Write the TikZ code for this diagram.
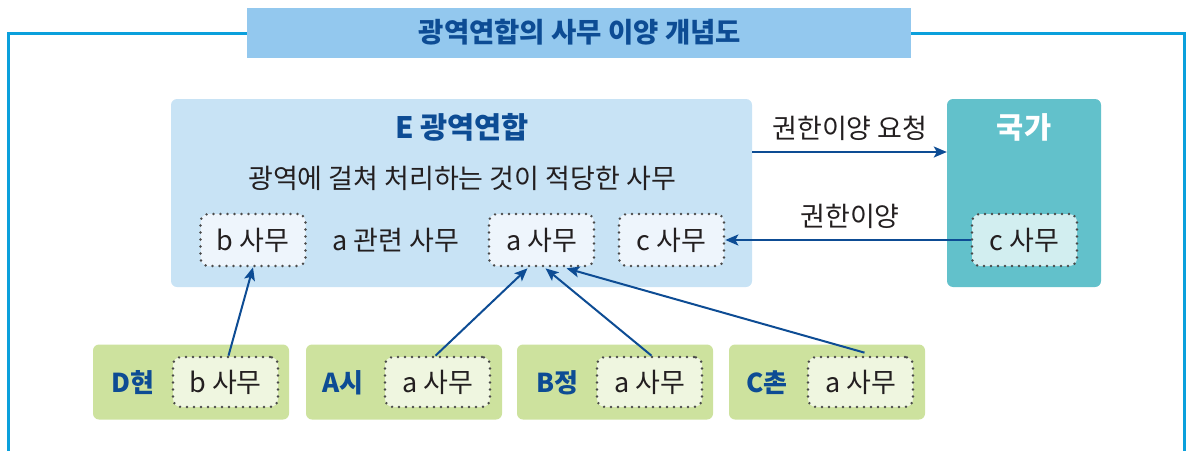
\documentclass[tikz,border=0pt]{standalone}
\usepackage{fontspec}
\newfontfamily\kr{Noto Sans CJK KR}
\usetikzlibrary{arrows.meta,calc}
\definecolor{frameblue}{HTML}{0BA0DC}
\definecolor{titlefill}{HTML}{93C8EE}
\definecolor{darkblue}{HTML}{0D4C94}
\definecolor{efill}{HTML}{C8E3F5}
\definecolor{teal}{HTML}{62C1CB}
\definecolor{green}{HTML}{CDE29E}
\definecolor{innerE}{HTML}{EEF5FC}
\definecolor{innerG}{HTML}{D2EEF0}
\definecolor{innerL}{HTML}{EFF6E0}
\definecolor{dotgray}{HTML}{4A4A4A}
\definecolor{txt}{HTML}{231F20}
\tikzset{
  body/.style={font=\kr\fontsize{27}{31}\selectfont, text=txt, inner sep=0pt},
  boldblue/.style={font=\kr\bfseries\fontsize{29.5}{33}\selectfont, text=darkblue, inner sep=0pt},
  titlefont/.style={font=\kr\bfseries\fontsize{27.5}{31}\selectfont, text=darkblue, inner sep=0pt},
  townlabel/.style={font=\kr\bfseries\fontsize{26}{30}\selectfont, text=darkblue, inner sep=0pt},
  bigbox/.style={rounded corners=6pt, inner sep=0pt},
  dotbox/.style={draw=dotgray, line width=2.7pt, dash pattern=on 0pt off 7pt, line cap=round,
     rounded corners=8pt, minimum width=105pt, minimum height=52pt, inner sep=0pt,
     font=\kr\fontsize{27}{31}\selectfont, text=txt},
  smalldot/.style={dotbox, minimum height=50pt},
  townbox/.style={bigbox, fill=green, minimum width=196pt, minimum height=75pt},
  arr/.style={draw=darkblue, line width=2pt, -{Stealth[length=13pt,width=11pt,inset=3pt]}},
}
\begin{document}
\begin{tikzpicture}[x=1pt,y=-1pt]
\useasboundingbox (0,0) rectangle (1186,450);
% outer frame
\draw[frameblue, line width=3pt] (8,452) -- (8,33) -- (1184,33) -- (1184,452);
% title
\node[fill=titlefill, minimum width=664pt, minimum height=50pt, inner sep=0pt] (title) at (579,33) {};
\node[titlefont] (titletext) at (580,32) {광역연합의 사무 이양 개념도};
% E box
\node[bigbox, fill=efill, minimum width=581pt, minimum height=188pt] (E) at (461.5,193) {};
\node[boldblue] (Etitle) at (462,127) {E 광역연합};
\node[body] (Edesc) at (462,178) {광역에 걸쳐 처리하는 것이 적당한 사무};
\node[dotbox, fill=innerE] (eb) at (253,240) {b 사무};
\node[body] (erel) at (396,240) {a 관련 사무};
\node[dotbox, fill=innerE] (ea) at (541.5,240) {a 사무};
\node[dotbox, fill=innerE] (ec) at (671.5,240) {c 사무};
% state box
\node[bigbox, fill=teal, minimum width=154pt, minimum height=188pt] (G) at (1024,193) {};
\node[boldblue, text=white] (Gtitle) at (1024,127) {국가};
\node[dotbox, fill=innerG] (gc) at (1024.5,240) {c 사무};
% arrows between E and state
\draw[arr] (E.east |- 0,152) -- (G.west |- 0,152);
\node[body] (req) at (850,128) {권한이양 요청};
\draw[arr] (gc.west) -- (ec.east);
\node[body] (trans) at (850,216) {권한이양};
% towns
\node[townbox] (D) at (191,382) {};
\node[townlabel] (Dl) at (133,383) {D현};
\node[smalldot, fill=innerL] (dD) at (225.5,382) {b 사무};
\node[townbox] (A) at (404,382) {};
\node[townlabel] (Al) at (343,383) {A시};
\node[smalldot, fill=innerL] (dA) at (437.5,382) {a 사무};
\node[townbox] (B) at (615,382) {};
\node[townlabel] (Bl) at (557,383) {B정};
\node[smalldot, fill=innerL] (dB) at (649.5,382) {a 사무};
\node[townbox] (C) at (827,382) {};
\node[townlabel] (Cl) at (767,383) {C촌};
\node[smalldot, fill=innerL] (dC) at (860.5,382) {a 사무};
% arrows from towns
\draw[arr] ($(dD.north)+(3,0)$) -- (eb.south);
\draw[arr] ($(dA.north)+(-2,0)$) -- ($(ea.south)+(-14,1)$);
\draw[arr] ($(dB.north)+(2,0)$) -- ($(ea.south)+(4,1)$);
\draw[arr] ($(dC.north)+(4,-3)$) -- ($(ea.south)+(25,1)$);
\end{tikzpicture}
\end{document}
